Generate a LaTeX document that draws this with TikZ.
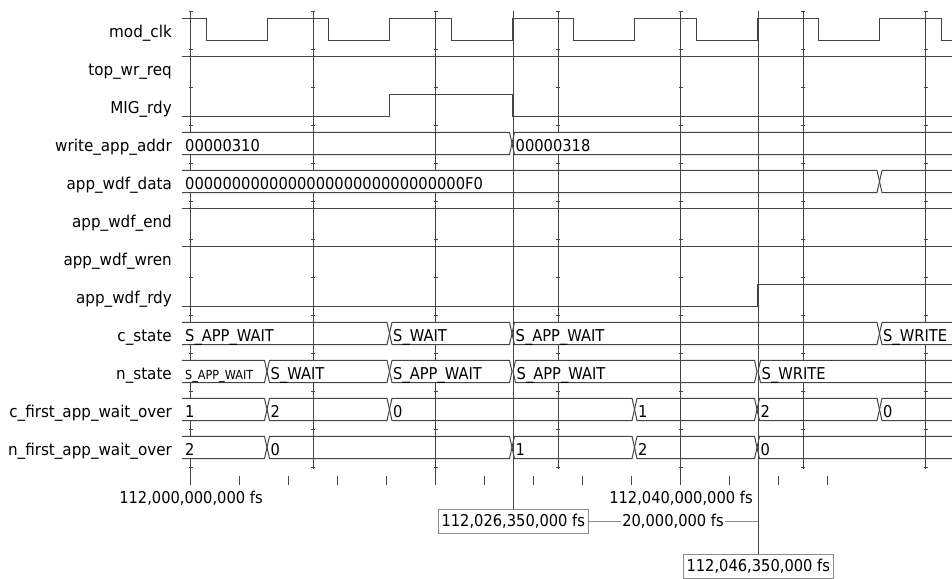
\documentclass[tikz,border=0pt]{standalone}
\usepackage{fontspec}
\setmainfont{DejaVu Sans}[FakeStretch=0.9]
\newfontfamily\namefont{DejaVu Sans}[FakeStretch=0.93]
\definecolor{wavegray}{HTML}{444444}
\definecolor{boxgray}{HTML}{8A8A8A}
\newcommand{\wavefont}{\fontsize{16.3}{19}\selectfont}
% one bus value between two edges: row, start, end, text, name
\newcommand{\busseg}[5]{%
  \draw[wave] ({#2+2.5},{18.3+38*#1}) -- ({#3-2.5},{18.3+38*#1}) -- (#3,{29.45+38*#1})
    -- ({#3-2.5},{40.6+38*#1}) -- ({#2+2.5},{40.6+38*#1}) -- (#2,{29.45+38*#1}) -- cycle;
  \node[val] (#5) at ({max(#2,181.5)+3.5},{37.1+38*#1}) {#4};}
\begin{document}
\begin{tikzpicture}[x=1pt,y=-1pt,
  wave/.style={draw=wavegray,line width=1pt},
  gridline/.style={draw=wavegray,line width=0.8pt},
  sig/.style={anchor=base east,font=\namefont\wavefont,inner sep=0pt},
  val/.style={anchor=base west,font=\wavefont,inner sep=0pt,fill=white,
    text height=18pt,text depth=2.7pt},
  stamp/.style={draw=boxgray,fill=white,font=\wavefont,inner xsep=0pt,inner ysep=5.75pt,
    text height=11.9pt,text depth=0pt,minimum width=150pt}]
  \useasboundingbox (0,0) rectangle (952,578);

  % signal names
  \foreach \name [count=\i from 0] in {mod\_clk,top\_wr\_req,MIG\_rdy,write\_app\_addr,
      app\_wdf\_data,app\_wdf\_end,app\_wdf\_wren,app\_wdf\_rdy,c\_state,n\_state,
      c\_first\_app\_wait\_over,n\_first\_app\_wait\_over}
    \node[sig] (name\i) at (172,{37.1+38*\i}) {\name};

  % grid, with small marks at the row borders
  \foreach \k in {0,...,6} {
    \draw[gridline] ({190.5+122.5*\k},11) -- ({190.5+122.5*\k},469);
    \foreach \r in {0,...,12}
      \draw[gridline] ({188.5+122.5*\k},{11.7+38*\r}) -- ({192.5+122.5*\k},{11.7+38*\r});
  }

  % time axis
  \foreach \k in {0,...,13}
    \draw[gridline] ({190.5+49*\k},476) -- ({190.5+49*\k},485);
  \foreach \k in {0,5,10}
    \draw[gridline] ({190.5+49*\k},465) -- ({190.5+49*\k},485);
  \node[val,anchor=base,fill=none] (t0) at (191,503.3) {112,000,000,000 fs};
  \node[val,anchor=base,fill=none] (t40) at (681,503.3) {112,040,000,000 fs};

  \begin{scope}
    \clip (182,0) rectangle (952,470);
    % mod_clk
    \draw[wave] (182,18.3) \foreach \k in {0,...,5} {
        -- ({206+122.5*\k},18.3) -- ({206+122.5*\k},40.6)
        -- ({267+122.5*\k},40.6) -- ({267+122.5*\k},18.3)} -- (941,18.3) -- (941,40.6) -- (960,40.6);
    % single bits
    \draw[wave] (182,56.3) -- (960,56.3);
    \draw[wave] (182,116.6) -- (389.5,116.6) -- (389.5,94.3) -- (512,94.3) -- (512,116.6) -- (960,116.6);
    \draw[wave] (182,208.3) -- (960,208.3);
    \draw[wave] (182,246.3) -- (960,246.3);
    \draw[wave] (182,306.6) -- (757,306.6) -- (757,284.3) -- (960,284.3);
    % buses
    \foreach \xa/\xb/\txt [count=\j] in {178/512/00000310,512/965/00000318}
      {\busseg{3}{\xa}{\xb}{\txt}{addr\j}}
    \foreach \xa/\xb/\txt [count=\j] in {178/879.5/000000000000000000000000000000F0,879.5/965/{}}
      {\busseg{4}{\xa}{\xb}{\txt}{data\j}}
    \foreach \xa/\xb/\txt [count=\j] in {178/389.5/S\_APP\_WAIT,389.5/512/S\_WAIT,
        512/879.5/S\_APP\_WAIT,879.5/965/S\_WRITE}
      {\busseg{8}{\xa}{\xb}{\txt}{cst\j}}
    \foreach \xa/\xb/\txt [count=\j] in {178/267/{\fontsize{12.5}{14}\selectfont S\_APP\_WAIT},
        267/389.5/S\_WAIT,389.5/512/S\_APP\_WAIT,513/757/S\_APP\_WAIT,758/965/S\_WRITE}
      {\busseg{9}{\xa}{\xb}{\txt}{nst\j}}
    \foreach \xa/\xb/\txt [count=\j] in {178/267/1,267/389.5/2,389.5/634.5/0,
        634.5/757/1,757/879.5/2,879.5/965/0}
      {\busseg{10}{\xa}{\xb}{\txt}{cfirst\j}}
    \foreach \xa/\xb/\txt [count=\j] in {178/267/2,267/512/0,512/634.5/1,
        634.5/757/2,757/965/0}
      {\busseg{11}{\xa}{\xb}{\txt}{nfirst\j}}
  \end{scope}

  % cursors
  \node[stamp] (curA) at (513.3,521) {112,026,350,000 fs};
  \node[stamp] (curB) at (758.3,566) {112,046,350,000 fs};
  \node[font=\wavefont,inner xsep=1.5pt,inner ysep=0pt,text height=11.9pt,text depth=0pt]
    (delta) at (673,521) {20,000,000 fs};
  \coordinate (topA) at (513,11);
  \coordinate (topB) at (758,11);
  \draw[gridline] (topA) -- (topA |- curA.north);
  \draw[gridline] (topB) -- (topB |- curB.north);
  \draw[gridline,draw=boxgray] (curA.east) -- (delta.west);
  \draw[gridline,draw=boxgray] (delta.east) -- (topB |- delta.east);
\end{tikzpicture}
\end{document}
